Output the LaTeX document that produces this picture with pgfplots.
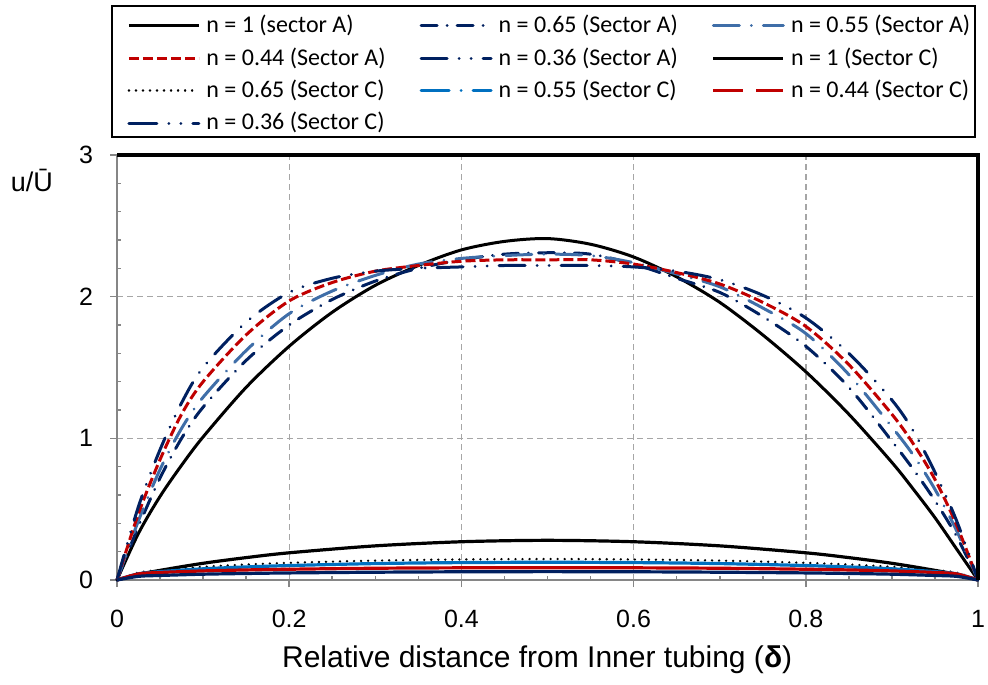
\documentclass[border=0pt]{standalone}
\usepackage{fontspec}
\setmainfont{Liberation Sans}
\newfontfamily\legfont{Carlito}
\usepackage{pgfplots}
\usepackage{pgfplotstable}
\pgfplotsset{compat=1.18}

\definecolor{navy}{HTML}{002060}
\definecolor{steel}{HTML}{3F6EA8}
\definecolor{rred}{HTML}{C00000}
\definecolor{lblue}{HTML}{0070C0}
\definecolor{axgray}{HTML}{868686}
\definecolor{grgray}{HTML}{A6A6A6}

% sector A profiles
\pgfplotstableread{
x     n1     n065   n055   n044   n036
0     0      0      0      0      0
0.025 0.33   0.38   0.42   0.47   0.52
0.05  0.59   0.72   0.78   0.85   0.92
0.075 0.81   1.00   1.07   1.17   1.25
0.1   1.01   1.22   1.29   1.40   1.50
0.15  1.36   1.55   1.62   1.73   1.82
0.2   1.65   1.80   1.88   1.97   2.03
0.25  1.89   1.98   2.04   2.10   2.13
0.3   2.08   2.11   2.15   2.18   2.18
0.35  2.22   2.20   2.23   2.22   2.20
0.4   2.33   2.26   2.27   2.25   2.21
0.45  2.39   2.30   2.29   2.26   2.22
0.5   2.41   2.31   2.30   2.26   2.22
0.55  2.37   2.30   2.29   2.26   2.22
0.6   2.28   2.23   2.24   2.23   2.21
0.65  2.14   2.13   2.16   2.17   2.18
0.7   1.96   2.03   2.07   2.09   2.12
0.75  1.73   1.86   1.92   1.96   2.01
0.8   1.47   1.65   1.74   1.79   1.85
0.85  1.17   1.36   1.45   1.52   1.60
0.9   0.83   0.98   1.08   1.17   1.27
0.925 0.64   0.78   0.88   0.96   1.05
0.95  0.44   0.56   0.64   0.71   0.76
0.975 0.22   0.31   0.35   0.39   0.42
1     0      0      0      0      0
}\secA

% sector C profiles
\pgfplotstableread{
x     n1     n065   n055   n044   n036
0     0      0      0      0      0
0.025 0.039  0.052  0.044  0.043  0.026
0.05  0.068  0.070  0.059  0.053  0.032
0.1   0.118  0.093  0.079  0.064  0.041
0.15  0.158  0.109  0.092  0.071  0.046
0.2   0.192  0.121  0.102  0.076  0.050
0.3   0.241  0.137  0.116  0.083  0.055
0.4   0.270  0.145  0.123  0.086  0.058
0.5   0.280  0.148  0.125  0.087  0.059
0.6   0.270  0.145  0.123  0.086  0.058
0.7   0.241  0.137  0.116  0.083  0.055
0.8   0.192  0.121  0.102  0.076  0.050
0.85  0.158  0.109  0.092  0.071  0.046
0.9   0.118  0.093  0.079  0.064  0.041
0.95  0.068  0.070  0.059  0.053  0.032
0.975 0.039  0.052  0.044  0.043  0.026
1     0      0      0      0      0
}\secC

\begin{document}
\begin{tikzpicture}
\path[use as bounding box] (-58.5pt,-52pt) rectangle (435.5pt,290pt);
\begin{axis}[
  at={(0pt,0pt)}, anchor=south west, scale only axis,
  width=430.5pt, height=212.5pt,
  xmin=0, xmax=1, ymin=0, ymax=3,
  clip=false,
  xtick={0,0.2,0.4,0.6,0.8,1}, ytick={0,1,2,3},
  minor x tick num=3, minor y tick num=4,
  xtick pos=bottom, ytick pos=left,
  tick align=outside,
  major tick length=3.5pt, minor tick length=-2pt,
  tick style={axgray, line width=0.8pt},
  axis line style={axgray, line width=1pt},
  grid=major,
  major grid style={grgray, line width=0.7pt, dash pattern=on 3pt off 2pt},
  /pgf/number format/assume math mode=true,
  tick label style={font=\fontsize{12.5}{15}\selectfont},
  xticklabel style={yshift=-8pt},
  yticklabel style={xshift=-5pt},
  xlabel={Relative distance from Inner tubing (\textbf{δ})},
  xlabel style={font=\fontsize{15}{18}\selectfont, at={(axis description cs:0.488,-0.205)}, anchor=base},
  ylabel={u/Ū},
  ylabel style={font=\fontsize{13.5}{16}\selectfont, rotate=-90, at={(axis description cs:-0.099,0.941)}, anchor=center},
  legend columns=3,
  legend cell align=left,
  legend image code/.code={\draw[#1] (0pt,0pt) -- (35pt,0pt);},
  legend style={at={(axis description cs:-0.0046,1.3474)}, anchor=north west,
    draw=none, fill=none, inner xsep=7pt, inner ysep=1pt,
    font=\legfont\fontsize{12}{14}\selectfont,
    nodes={inner xsep=3pt, inner ysep=0pt, text height=11.5pt, text depth=4.7pt},
    /tikz/every even column/.append style={column sep=14pt}},
]
\addplot[black, line width=1.5pt, smooth, tension=0.5] table[x=x,y=n1] {\secA};
\addlegendentry{n = 1 (sector A)}
\addplot[navy, line width=1.5pt, smooth, tension=0.5, line cap=round, dash pattern=on 8pt off 5pt on 0.01pt off 5pt] table[x=x,y=n065] {\secA};
\addlegendentry{n = 0.65 (Sector A)}
\addplot[steel, line width=1.5pt, smooth, tension=0.5, line cap=round, dash pattern=on 13pt off 6pt on 0.01pt off 6pt] table[x=x,y=n055] {\secA};
\addlegendentry{n = 0.55 (Sector A)}
\addplot[rred, line width=1.5pt, smooth, tension=0.5, dash pattern=on 5pt off 2pt] table[x=x,y=n044] {\secA};
\addlegendentry{n = 0.44 (Sector A)}
\addplot[navy, line width=1.5pt, smooth, tension=0.5, line cap=round, dash pattern=on 13pt off 6pt on 0.01pt off 6pt on 0.01pt off 6pt] table[x=x,y=n036] {\secA};
\addlegendentry{n = 0.36 (Sector A)}
\addplot[black, line width=1.6pt, smooth, tension=0.5] table[x=x,y=n1] {\secC};
\addlegendentry{n = 1 (Sector C)}
\addplot[black, line width=1.3pt, smooth, tension=0.5, line cap=round, dash pattern=on 0.01pt off 3.5pt] table[x=x,y=n065] {\secC};
\addlegendentry{n = 0.65 (Sector C)}
% the dense Sector C profiles show as solid lines in the plot
\addplot[lblue, line width=1.6pt, smooth, tension=0.5, forget plot] table[x=x,y=n055] {\secC};
\addlegendimage{lblue, line width=1.5pt, line cap=round, dash pattern=on 14pt off 6pt on 0.01pt off 6pt}
\addlegendentry{n = 0.55 (Sector C)}
\addplot[rred, line width=1.6pt, smooth, tension=0.5, forget plot] table[x=x,y=n044] {\secC};
\addlegendimage{rred, line width=1.5pt, dash pattern=on 15pt off 6.5pt}
\addlegendentry{n = 0.44 (Sector C)}
\addplot[navy, line width=1.6pt, smooth, tension=0.5, forget plot] table[x=x,y=n036] {\secC};
\addlegendimage{navy, line width=1.5pt, line cap=round, dash pattern=on 14pt off 6pt on 0.01pt off 6pt on 0.01pt off 6pt}
\addlegendentry{n = 0.36 (Sector C)}
\draw[black, line width=1.6pt] (rel axis cs:0,1) -- (rel axis cs:1,1) -- (rel axis cs:1,0);
% legend frame
\draw[black, line width=0.7pt] (axis description cs:-0.0058,1.3506) rectangle (axis description cs:0.9965,1.0424);
\end{axis}
\end{tikzpicture}
\end{document}
